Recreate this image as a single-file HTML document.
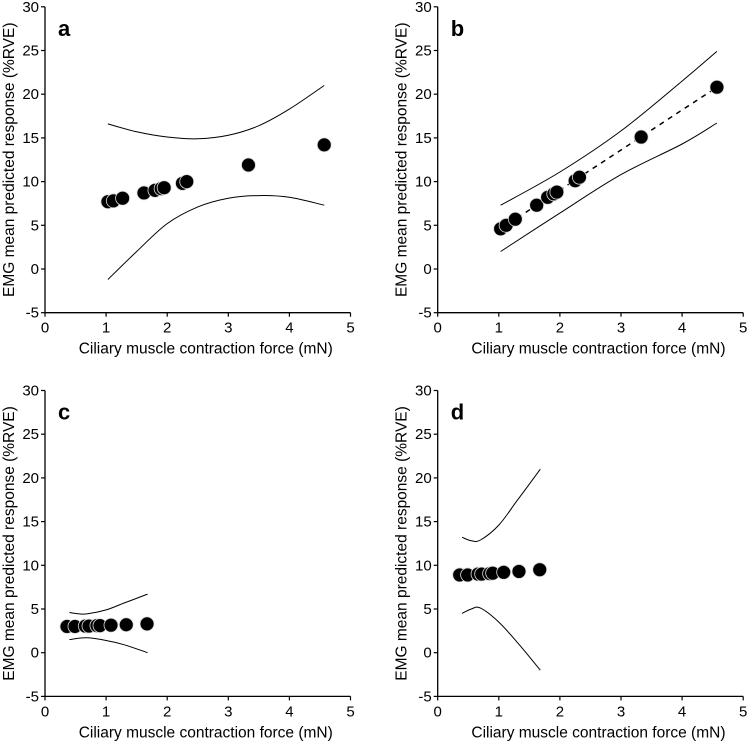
<!DOCTYPE html>
<html><head><meta charset="utf-8"><style>
body{margin:0;background:#fff;}
svg{display:block;font-family:"Liberation Sans",Arial,sans-serif;}
</style></head><body>
<svg id="chart" width="750" height="742"></svg>
<script>
const xTicks=[0,1,2,3,4,5];
const yTicks=[-5,0,5,10,15,20,25,30];
const panelLabels=["a","b","c","d"];
const xA=[1.03,1.12,1.27,1.62,1.8,1.9,1.95,2.25,2.32,3.33,4.57];
const yA=[7.7,7.8,8.1,8.7,9.0,9.2,9.3,9.8,10.0,11.9,14.2];
const yB=[4.6,5.0,5.7,7.3,8.2,8.6,8.8,10.1,10.5,15.1,20.8];
const xC=[0.36,0.49,0.66,0.72,0.85,0.9,1.08,1.33,1.67];
const yC=[3.0,3.0,3.05,3.05,3.1,3.1,3.15,3.2,3.3];
const yD=[8.9,8.9,9.0,9.0,9.05,9.1,9.2,9.3,9.5];
const ciX_A=[1.03,1.5,2.0,2.5,3.0,3.5,4.0,4.57];
const ciUpA=[16.6,15.7,15.1,14.9,15.3,16.4,18.3,21.0];
const ciLoA=[-1.2,2.0,5.2,7.1,8.1,8.4,8.2,7.3];
const ciX_B=[1.03,2.0,3.0,4.0,4.57];
const ciUpB=[7.3,11.1,15.8,21.5,24.9];
const ciLoB=[2.0,6.4,10.8,14.3,16.7];
const ciX_C=[0.4,0.55,0.7,1.0,1.3,1.68];
const ciUpC=[4.6,4.45,4.45,4.9,5.7,6.7];
const ciLoC=[1.5,1.65,1.7,1.4,0.9,0.0];
const ciUpD=[13.2,12.8,12.9,14.6,17.4,21.0];
const ciLoD=[4.5,5.0,5.1,3.5,1.2,-2.0];

const NS="http://www.w3.org/2000/svg";
const svg=document.getElementById("chart");
function mk(tag,attrs,parent){const e=document.createElementNS(NS,tag);for(const k in attrs)e.setAttribute(k,attrs[k]);(parent||svg).appendChild(e);return e;}
function smooth(pts){
 let d="M"+pts[0][0].toFixed(1)+","+pts[0][1].toFixed(1);
 for(let i=0;i<pts.length-1;i++){
  const p0=pts[i-1]||pts[i],p1=pts[i],p2=pts[i+1],p3=pts[i+2]||p2;
  const c1=[p1[0]+(p2[0]-p0[0])/6,p1[1]+(p2[1]-p0[1])/6];
  const c2=[p2[0]-(p3[0]-p1[0])/6,p2[1]-(p3[1]-p1[1])/6];
  d+="C"+c1[0].toFixed(1)+","+c1[1].toFixed(1)+" "+c2[0].toFixed(1)+","+c2[1].toFixed(1)+" "+p2[0].toFixed(1)+","+p2[1].toFixed(1);
 }
 return d;
}

const panels=[
 {ox:45,oy0:269,label:"a",px:xA,py:yA,cx:ciX_A,up:ciUpA,lo:ciLoA,fit:false},
 {ox:437.7,oy0:269,label:"b",px:xA,py:yB,cx:ciX_B,up:ciUpB,lo:ciLoB,fit:true},
 {ox:45,oy0:652.7,label:"c",px:xC,py:yC,cx:ciX_C,up:ciUpC,lo:ciLoC,fit:false},
 {ox:437.7,oy0:652.7,label:"d",px:xC,py:yD,cx:ciX_C,up:ciUpD,lo:ciLoD,fit:false}
];
const XU=61.1, YU=43.7/5;

panels.forEach((p,i)=>{
 const g=mk("g",{});
 
 
 const sx=v=>p.ox+v*XU, sy=v=>p.oy0-v*YU;
 const ax=mk("g",{},g);
 
 
 mk("line",{x1:sx(0),y1:sy(30),x2:sx(0),y2:sy(-5),stroke:"#000","stroke-width":1.3},ax);
 mk("line",{x1:sx(0),y1:sy(-5),x2:sx(5),y2:sy(-5),stroke:"#000","stroke-width":1.3},ax);
 yTicks.forEach(t=>{
  mk("line",{x1:sx(0)-4,y1:sy(t),x2:sx(0),y2:sy(t),stroke:"#000","stroke-width":1.2},ax);
  const tx=mk("text",{x:sx(0)-6,y:sy(t)+5,"text-anchor":"end","font-size":15},ax);tx.textContent=t;
  
  
 });
 xTicks.forEach(t=>{
  mk("line",{x1:sx(t),y1:sy(-5),x2:sx(t),y2:sy(-5)+4,stroke:"#000","stroke-width":1.2},ax);
  const tx=mk("text",{x:sx(t),y:sy(-5)+20,"text-anchor":"middle","font-size":15},ax);tx.textContent=t;
  
  
 });
 const xt=mk("text",{x:sx(2.5)+8,y:sy(-5)+41,"text-anchor":"middle","font-size":15.5},g);
 xt.textContent="Ciliary muscle contraction force (mN)";
 
 
 const yx=sx(0)-31, yy=sy(12.5);
 const yt=mk("text",{x:yx,y:yy,"text-anchor":"middle","font-size":15.5,transform:`rotate(-90 ${yx} ${yy})`},g);
 yt.textContent="EMG mean predicted response (%RVE)";
 
 
 const pl=mk("text",{x:sx(0)+13,y:sy(30)+29,"font-size":22,"font-weight":"bold"},g);
 pl.textContent=p.label;
 
 
 const path=arr=>smooth(arr.map((v,k)=>[sx(p.cx[k]),sy(v)]));
 const cu=mk("path",{d:path(p.up),fill:"none",stroke:"#000","stroke-width":1},g);
 
 
 const cl=mk("path",{d:path(p.lo),fill:"none",stroke:"#000","stroke-width":1},g);
 
 
 if(p.fit){
  const n=p.px.length-1;
  const fl=mk("line",{x1:sx(p.px[0]),y1:sy(p.py[0]),x2:sx(p.px[n]),y2:sy(p.py[n]),stroke:"#000","stroke-width":1.5,"stroke-dasharray":"5,5"},g);
  
  
 }
 p.px.forEach((x,k)=>{
  const c=mk("circle",{cx:sx(x),cy:sy(p.py[k]),r:7,fill:"#000",stroke:"#ddd","stroke-width":0.8},g);
  
  
 });
});
</script>
</body></html>
